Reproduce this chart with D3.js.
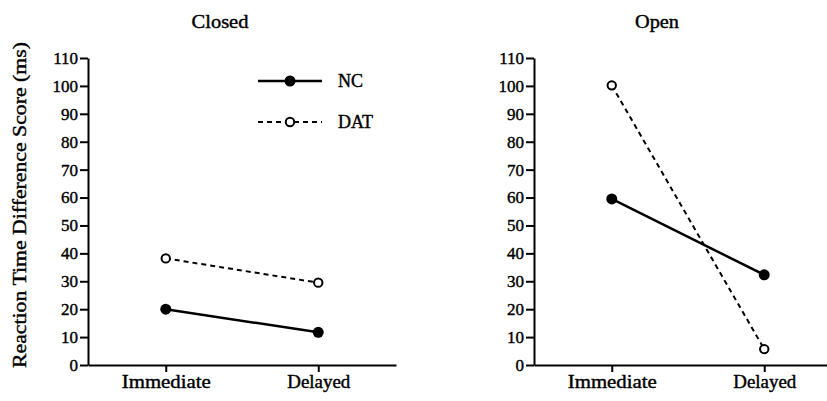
<!DOCTYPE html>
<html>
<head>
<meta charset="utf-8">
<script src="https://cdn.jsdelivr.net/npm/d3@7"></script>
<style>
  html, body { margin: 0; padding: 0; background: #fff; }
  svg { display: block; }
  svg text { font-family: "Liberation Serif", "Times New Roman", serif; fill: #000; stroke: #000; stroke-width: 0.4px; }
</style>
</head>
<body>
<svg id="chart" width="827" height="401"></svg>
<script>
// ---- data ----
const categories = ["Immediate", "Delayed"];
const panelTitles = ["Closed", "Open"];
const seriesNames = ["NC", "DAT"];
const closedNC = [20, 11.7];
const closedDAT = [38.2, 29.5];
const openNC = [59.5, 32.3];
const openDAT = [100.2, 5.7];
const yTicks = [0, 10, 20, 30, 40, 50, 60, 70, 80, 90, 100, 110];
const yLabel = "Reaction Time Difference Score (ms)";

const SERIF = 'Liberation Serif';

const panels = [
  { title: panelTitles[0], nc: closedNC, dat: closedDAT, x0: 88, titleX: 220, titleLen: 57 },
  { title: panelTitles[1], nc: openNC, dat: openDAT, x0: 534, titleX: 657, titleLen: 44 }
];

const svg = d3.select("#chart");
const y = d3.scaleLinear().domain([0, 110]).range([365, 58]);
const axisW = 308;

panels.forEach((p, i) => {
  const x = d3.scalePoint().domain(categories).range([p.x0, p.x0 + axisW]).padding(0.51);
  const g = svg.append("g");

  // title
  g.append("text")
    .attr("x", p.titleX).attr("y", 28)
    .attr("text-anchor", "middle")
    .style("font-family", SERIF)
    .style("font-size", "18px")
    .attr("textLength", p.titleLen).attr("lengthAdjust", "spacingAndGlyphs")
    .text(p.title);

  // y axis
  const ya = g.append("g")
    .attr("transform", `translate(${p.x0},0)`)
    .call(d3.axisLeft(y).tickValues(yTicks).tickSize(8).tickSizeOuter(0).tickPadding(2));
  ya.attr("font-family", null).attr("font-size", null);
  ya.selectAll("text").style("font-size", "17px").style("font-family", SERIF);
  ya.selectAll("line").attr("stroke", "#000").attr("stroke-width", 2);
  ya.select(".domain").attr("stroke", "#000").attr("stroke-width", 2);

  // x axis
  const xa = g.append("g")
    .attr("transform", `translate(0,${y(0)})`)
    .call(d3.axisBottom(x).tickSize(7).tickSizeOuter(0).tickPadding(3));
  xa.attr("font-family", null).attr("font-size", null);
  xa.selectAll("text")
    .style("font-size", "18px").style("font-family", SERIF)
    .attr("textLength", d => d === "Immediate" ? 89 : 63)
    .attr("lengthAdjust", "spacingAndGlyphs");
  xa.selectAll("line").attr("stroke", "#000").attr("stroke-width", 2);
  xa.select(".domain").attr("stroke", "#000").attr("stroke-width", 2);

  const line = d3.line().x((d, j) => x(categories[j])).y(d => y(d));

  // NC line (solid, filled)
  g.append("path").datum(p.nc)
    .attr("d", line).attr("fill", "none").attr("stroke", "#000").attr("stroke-width", 2.5);
  g.selectAll(".nc").data(p.nc).enter().append("circle")
    .attr("cx", (d, j) => x(categories[j])).attr("cy", d => y(d))
    .attr("r", 5.5).attr("fill", "#000");

  // DAT line (dashed, open)
  g.append("path").datum(p.dat)
    .attr("d", line).attr("fill", "none").attr("stroke", "#000").attr("stroke-width", 2)
    .attr("stroke-dasharray", "5,4");
  g.selectAll(".dat").data(p.dat).enter().append("circle")
    .attr("cx", (d, j) => x(categories[j])).attr("cy", d => y(d))
    .attr("r", 4.2).attr("fill", "#fff").attr("stroke", "#000").attr("stroke-width", 2);
});

// y axis label
svg.append("text")
  .attr("transform", "translate(26,205) rotate(-90)")
  .attr("text-anchor", "middle")
  .style("font-family", SERIF)
  .style("font-size", "18px")
  .attr("textLength", 326).attr("lengthAdjust", "spacingAndGlyphs")
  .text(yLabel);

// legend
const legend = svg.append("g");
const legRows = [
  { name: seriesNames[0], y: 81, dash: null, fill: "#000", r: 5.5, sw: 2.5 },
  { name: seriesNames[1], y: 122, dash: "5,4", fill: "#fff", r: 4.2, sw: 2 }
];
legRows.forEach(r => {
  legend.append("line")
    .attr("x1", 258).attr("x2", 322).attr("y1", r.y).attr("y2", r.y)
    .attr("stroke", "#000").attr("stroke-width", r.sw)
    .attr("stroke-dasharray", r.dash);
  legend.append("circle")
    .attr("cx", 290).attr("cy", r.y).attr("r", r.r)
    .attr("fill", r.fill).attr("stroke", "#000").attr("stroke-width", r.name === "DAT" ? 2 : 0);
  legend.append("text")
    .attr("x", 338).attr("y", r.y).attr("dy", "0.35em")
    .style("font-family", SERIF)
    .style("font-size", "18px")
    .text(r.name);
});
</script>
</body>
</html>
